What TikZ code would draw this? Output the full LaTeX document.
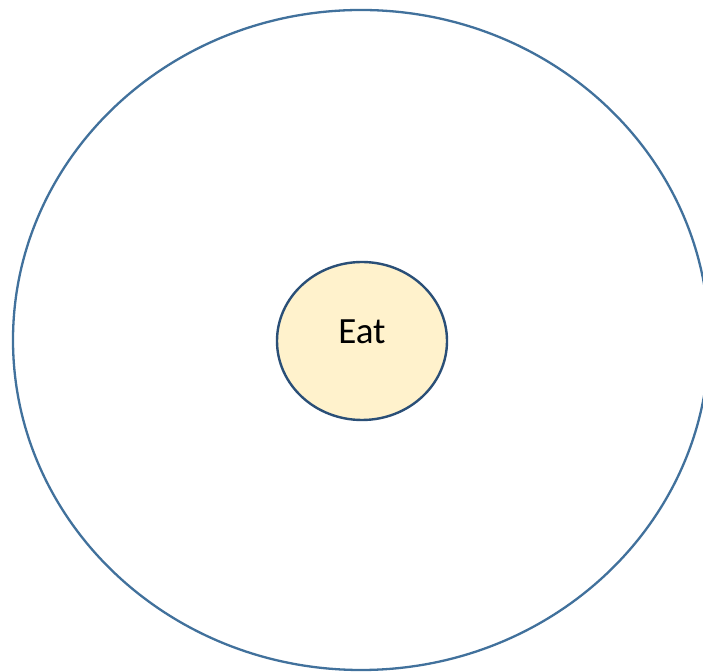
\documentclass[tikz,border=0pt]{standalone}
\usepackage{fontspec}
\setmainfont{Carlito}
\usetikzlibrary{shapes.geometric}
\definecolor{outerline}{HTML}{41719C}
\definecolor{innerline}{HTML}{2A4F77}
\definecolor{innerfill}{HTML}{FFF2CC}
\tikzset{
  outerring/.style={ellipse, draw=outerline, line width=2.3pt, minimum width=696pt, minimum height=660pt, inner sep=0pt},
  centerbubble/.style={ellipse, draw=innerline, fill=innerfill, line width=2.4pt, minimum width=170pt, minimum height=158pt, inner sep=0pt},
  bubbletext/.style={font=\fontsize{37}{42}\selectfont, inner sep=0pt}
}
\begin{document}
\begin{tikzpicture}[x=1pt,y=1pt]
\useasboundingbox (0,0) rectangle (703,671);
\clip (0,0) rectangle (703,671);
\fill[white] (0,0) rectangle (703,671);
\node[outerring] (outer) at (361,331) {};
\node[centerbubble] (eat) at (362,330) {};
\node[bubbletext] (eatlabel) at (362,339) {Eat};
\end{tikzpicture}
\end{document}
